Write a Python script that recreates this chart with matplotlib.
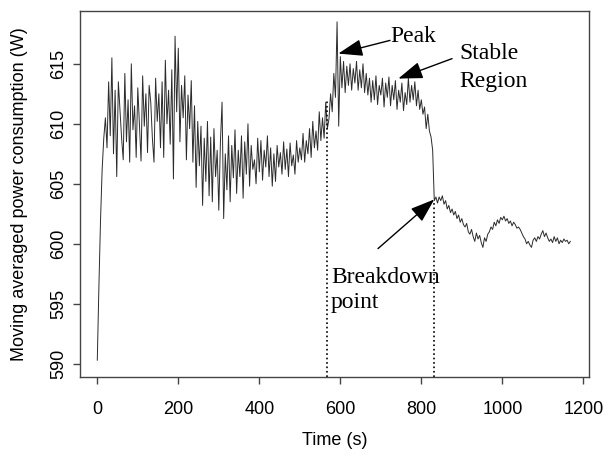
"""
Moving averaged power consumption over time, with peak / stable region /
breakdown point annotations (R-style base graphics look).
"""

import numpy as np
import matplotlib
matplotlib.use("Agg")
import matplotlib.pyplot as plt

# ── Data (one value every 4 s) ───────────────────────────────────────────────
t_start = 0
t_step = 4
power = [
    590.3, 596.5, 602.0, 606.2, 608.8, 610.5, 608.0, 613.5, 609.0, 615.5,   # 0-36
    607.5, 612.8, 605.6, 613.5, 611.2, 608.8, 607.0, 614.2, 608.5, 612.0,   # 40-76
    606.8, 615.0, 609.5, 611.5, 607.2, 613.0, 610.0, 606.9, 614.0, 609.8,   # 80-116
    612.5, 607.6, 613.2, 611.8, 608.8, 606.8, 613.8, 610.2, 612.5, 608.0,   # 120-156
    613.5, 607.2, 615.3, 610.0, 612.8, 608.3, 614.5, 605.4, 617.3, 611.0,   # 160-196
    616.3, 608.5, 613.2, 610.5, 614.0, 607.0, 612.4, 609.6, 613.6, 606.8,   # 200-236
    611.5, 604.7, 610.2, 606.5, 609.8, 603.2, 608.8, 605.2, 610.2, 604.0,   # 240-276
    608.9, 603.5, 609.6, 605.6, 607.8, 602.8, 608.5, 611.8, 602.1, 607.5,   # 280-316
    604.5, 609.0, 603.5, 608.2, 605.5, 609.5, 604.2, 607.8, 605.6, 609.0,   # 320-356
    603.8, 608.5, 605.8, 610.0, 604.8, 608.2, 606.2, 607.0, 605.0, 608.8,   # 360-396
    606.0, 608.6, 605.3, 607.8, 606.4, 609.0, 605.6, 608.0, 604.8, 607.5,   # 400-436
    605.2, 608.2, 606.4, 607.6, 605.8, 608.5, 606.2, 607.9, 605.6, 608.4,   # 440-476
    606.5, 607.4, 605.8, 608.6, 606.8, 608.0, 607.0, 609.2, 606.8, 608.6,   # 480-516
    607.5, 609.6, 607.2, 610.2, 608.0, 609.4, 607.8, 611.0, 608.6, 610.5,   # 520-556
    608.8, 611.8, 609.6, 610.4, 612.5, 611.0, 614.2, 612.2, 618.5, 609.8,   # 560-596
    615.6, 613.0, 615.2, 612.6, 614.8, 613.2, 615.0, 612.8, 614.6, 613.4,   # 600-636
    615.2, 612.8, 614.5, 613.0, 615.0, 612.6, 614.2, 612.4, 613.8, 611.8,   # 640-676
    613.6, 612.0, 614.0, 611.6, 613.2, 612.4, 613.8, 611.4, 613.4, 612.2,   # 680-716
    613.9, 611.5, 613.2, 612.0, 613.6, 611.2, 612.8, 611.8, 613.4, 611.1,   # 720-756
    612.6, 611.6, 613.8, 611.8, 613.2, 612.0, 613.5, 611.5, 612.8, 611.2,   # 760-796
    612.0, 610.8, 611.4, 609.6, 610.8, 609.4, 608.9, 607.8, 603.6, 603.9,   # 800-836
    603.4, 603.9, 603.6, 604.0, 603.3, 603.6, 602.9, 603.2, 602.6, 602.9,   # 840-876
    602.4, 602.7, 602.1, 602.4, 601.8, 602.1, 601.6, 601.4, 601.7, 601.0,   # 880-916
    600.8, 601.2, 600.6, 600.2, 600.9, 600.4, 600.7, 600.1, 599.7, 600.5,   # 920-956
    600.2, 600.8, 601.0, 601.4, 601.2, 601.8, 601.5, 602.0, 601.7, 602.2,   # 960-996
    602.0, 602.3, 601.9, 602.1, 601.7, 601.9, 601.5, 601.8, 601.6, 601.3,   # 1000-1036
    601.4, 601.2, 600.9, 600.6, 600.4, 600.0, 600.2, 599.9, 599.7, 600.3,   # 1040-1076
    600.5, 600.2, 600.6, 600.4, 600.8, 601.1, 600.6, 600.9, 600.5, 600.2,   # 1080-1116
    600.4, 600.1, 600.6, 600.2, 600.5, 600.0, 600.3, 600.1, 600.4, 600.2,   # 1120-1156
    600.3, 600.0, 600.2,                                                    # 1160-1168
]
time = t_start + t_step * np.arange(len(power))

# dotted markers (time, top of the dotted line)
marker_t = [567, 831]
marker_top = [612.1, 603.4]

x_ticks = [0, 200, 400, 600, 800, 1000, 1200]
y_ticks = [590, 595, 600, 605, 610, 615]

# ── Plot ─────────────────────────────────────────────────────────────────────
fig = plt.figure(figsize=(6.04, 4.61), dpi=100)
ax = fig.add_axes([80 / 604, 1 - 377 / 461, 509 / 604, 366 / 461])

ax.plot(time, power, color="#2b2b2b", lw=0.7)
ax.vlines(marker_t, 588.9, marker_top, colors="black", linestyles=":", lw=1.2)

ax.set_xlim(-42.7, 1214)
ax.set_ylim(588.9, 619.4)
ax.set_xticks(x_ticks)
ax.set_yticks(y_ticks)

for s in ax.spines.values():
    s.set_color("#444444")
    s.set_linewidth(1.0)

ax.tick_params(axis="x", length=5, width=1, color="#444444", pad=12, labelsize=13)
ax.tick_params(axis="y", length=5, width=1, color="#444444", pad=4, labelsize=13)
for lab in ax.get_xticklabels():
    lab.set_fontfamily("Liberation Sans")
for lab in ax.get_yticklabels():
    lab.set_fontfamily("Liberation Sans")
    lab.set_rotation(90)
    lab.set_verticalalignment("center")

fig.text(334.5 / 604, 1 - 440 / 461, "Time (s)", ha="center", va="center",
         fontsize=13, family="Liberation Sans")
fig.text(20 / 604, 1 - 194 / 461, "Moving averaged power consumption (W)",
         rotation=90, ha="center", va="center", fontsize=13, family="Liberation Sans")

# ── Annotations ──────────────────────────────────────────────────────────────
serif = dict(family="Liberation Serif", fontsize=17, va="baseline", ha="left")
arrow = dict(arrowstyle="-|>,head_length=1.0,head_width=0.35", color="black",
             lw=1.0, mutation_scale=15, shrinkA=0, shrinkB=0)

ax.text(722.7, 616.8, "Peak", **serif)
ax.annotate("", xy=(595.1, 615.85), xytext=(722.7, 616.95), arrowprops=arrow)

ax.text(893.0, 615.43, "Stable", **serif)
ax.text(893.0, 613.07, "Region", **serif)
ax.annotate("", xy=(743.2, 613.77), xytext=(875.8, 615.43), arrowprops=arrow)

ax.text(577.0, 596.74, "Breakdown", **serif)
ax.text(577.0, 594.66, "point", **serif)
ax.annotate("", xy=(832.1, 603.7), xytext=(693.0, 599.6), arrowprops=arrow)

fig.savefig("out.png", dpi=100)
